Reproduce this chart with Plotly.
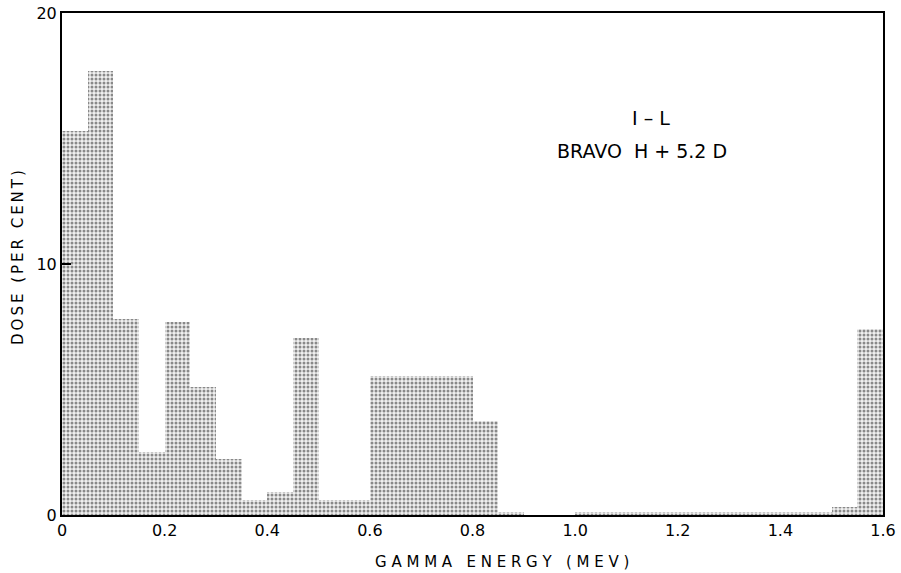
import plotly.graph_objects as go

bin_left = [round(0.05 * i, 2) for i in range(32)]
dose = [15.3, 17.7, 7.8, 2.5, 7.7, 5.1, 2.25, 0.6,
        0.9, 7.05, 0.6, 0.6, 5.55, 5.55, 5.55, 5.55,
        3.75, 0.13, 0.0, 0.0, 0.1, 0.1, 0.12, 0.13,
        0.12, 0.12, 0.12, 0.13, 0.12, 0.1, 0.3, 7.4]
x_ticks = [0, 0.2, 0.4, 0.6, 0.8, 1.0, 1.2, 1.4, 1.6]
x_tick_text = ["0", "0.2", "0.4", "0.6", "0.8", "1.0", "1.2", "1.4", "1.6"]
y_ticks = [0, 10, 20]

centers = [b + 0.025 for b in bin_left]

fig = go.Figure()
fig.add_trace(go.Bar(
    x=centers, y=dose, width=0.05,
    marker=dict(color="#d8d8d8", line=dict(width=0),
                pattern=dict(shape=".", fgcolor="#222222", bgcolor="#f0f0f0",
                             size=4, solidity=0.45)),
    showlegend=False,
))

font = "DejaVu Sans"
ts = "\u2009"
fig.update_layout(
    width=901, height=573,
    margin=dict(l=62, r=18, t=13, b=58),
    paper_bgcolor="white", plot_bgcolor="white",
    bargap=0,
    font=dict(family=font, color="black", size=16),
    xaxis=dict(range=[0, 1.6], tickvals=x_ticks, ticktext=x_tick_text,
               automargin=False, ticklabeloverflow="allow",
               showgrid=False, zeroline=False, showline=True, linecolor="black",
               linewidth=2, mirror=True, ticks="", tickfont=dict(size=16)),
    yaxis=dict(range=[0, 20], tickvals=y_ticks, showgrid=False, zeroline=False,
               automargin=False, ticklabeloverflow="allow",
               showline=True, linecolor="black", linewidth=2, mirror=True,
               ticks="inside", ticklen=9, tickwidth=2, tickcolor="black",
               tickfont=dict(size=16)),
)
fig.add_annotation(x=0.536, xref="paper", y=-0.094, yref="paper",
                   text="G A M M A   E N E R G Y   ( M E V )",
                   xanchor="center", yanchor="middle",
                   showarrow=False, font=dict(size=15, family=font))
fig.add_annotation(x=-0.0536, xref="paper", y=0.514, yref="paper",
                   text=ts.join("DOSE (PER CENT)"), textangle=-90,
                   xanchor="center", yanchor="middle",
                   showarrow=False, font=dict(size=15, family=font))
fig.add_annotation(x=0.717, xref="paper", y=0.791, yref="paper", text="I – L",
                   xanchor="center", yanchor="middle",
                   showarrow=False, font=dict(size=19, family=font))
fig.add_annotation(x=0.706, xref="paper", y=0.725, yref="paper", text="BRAVO  H + 5.2 D",
                   xanchor="center", yanchor="middle",
                   showarrow=False, font=dict(size=19, family=font))
fig.write_html("out.html", config={"displayModeBar": False},
               post_script="document.body.style.margin='0';")
